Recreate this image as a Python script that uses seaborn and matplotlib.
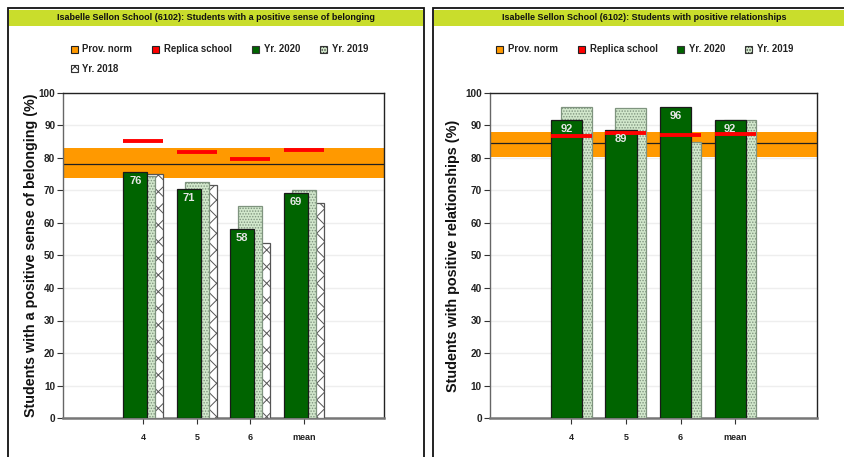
import matplotlib
matplotlib.use('Agg')
import matplotlib.pyplot as plt
import seaborn as sns
import numpy as np
from matplotlib.patches import Rectangle, Patch
from matplotlib import font_manager as fm

# ---------------- data ----------------
categories = ['4', '5', '6', 'mean']

belong_2020 = [75.7, 70.6, 58.2, 69.3]
belong_2019 = [74.5, 72.7, 65.3, 70.2]
belong_2018 = [75.0, 71.7, 53.7, 66.2]
belong_replica = [85.3, 81.7, 79.6, 82.5]
belong_norm = [78.0]
belong_norm_band = [73.8, 83.0]

rel_2020 = [91.7, 88.6, 95.8, 91.7]
rel_2019 = [95.8, 95.5, 85.0, 91.7]
rel_replica = [86.7, 87.6, 87.1, 87.3]
rel_norm = [84.5]
rel_norm_band = [80.4, 87.9]

yticks = [0, 10, 20, 30, 40, 50, 60, 70, 80, 90, 100]

title_left = 'Isabelle Sellon School (6102): Students with a positive sense of belonging'
title_right = 'Isabelle Sellon School (6102): Students with positive relationships'
ylabel_left = 'Students with a positive sense of belonging (%)'
ylabel_right = 'Students with positive relationships (%)'

# ---------------- style ----------------
sns.set_theme(style='white')
FAM = ['Liberation Sans', 'DejaVu Sans']
plt.rcParams['font.family'] = FAM
plt.rcParams['hatch.linewidth'] = 0.7


def bprop(size):
    return fm.FontProperties(family=FAM, weight='bold', size=size)


W, H = 844, 457
fig = plt.figure(figsize=(W / 100, H / 100), dpi=100)
fig.patch.set_facecolor('white')

GREEN = '#006400'
ORANGE = '#ff9900'
TITLEBAR = '#c9dd2c'

STYLES = {
    '2020': dict(color=GREEN, edgecolor='#1a1a1a', hatch=None),
    '2019': dict(color='#d2e8cc', edgecolor='#7f947f', hatch='......'),
    '2018': dict(color='white', edgecolor='#555555', hatch='xx'),
}


def px_to_fig(x0, y0, x1, y1):
    return (x0 / W, 1 - y1 / H, (x1 - x0) / W, (y1 - y0) / H)


def draw_panel(ax, series, offsets, width, replica, norm, band, ylabel, ylabel_size, label_x):
    x = np.arange(len(categories))
    ax.axhspan(band[0], band[1], color=ORANGE, lw=0, zorder=1)
    ax.axhline(norm[0], color='#202020', lw=0.9, zorder=2)
    for (name, vals), off in reversed(list(zip(series, offsets))):
        st = STYLES[name]
        sns.barplot(x=x + off, y=vals, native_scale=True, width=width, ax=ax,
                    color=st['color'], saturation=1, edgecolor=st['edgecolor'],
                    linewidth=0.9, hatch=st['hatch'], errorbar=None, zorder=3)
    ax.hlines(replica, x - 0.375, x + 0.375, color='#ff0000', lw=2.8, zorder=6)
    name, vals = series[0]
    for xi, v in zip(x + offsets[0], vals):
        ax.annotate(f'{round(v)}', (xi, v), xytext=(0, -3), textcoords='offset points',
                    ha='center', va='top', color='#e6e6e6', fontproperties=bprop(8),
                    zorder=7)
    ax.set_xlim(-1.5, 4.5)
    ax.set_ylim(0, 100)
    ax.set_xticks(x)
    ax.set_xticklabels(categories)
    ax.set_yticks(yticks)
    ax.set_yticklabels([str(t) for t in yticks])
    ax.set_xlabel('')
    ax.yaxis.grid(True, color='#eeeeee', lw=1, zorder=0)
    ax.xaxis.grid(False)
    ax.set_axisbelow(True)
    for s in ['top', 'right']:
        ax.spines[s].set_color('#222222')
        ax.spines[s].set_linewidth(1.0)
    ax.spines['left'].set_color('#666666')
    ax.spines['left'].set_linewidth(1.0)
    ax.spines['bottom'].set_color('#777777')
    ax.spines['bottom'].set_linewidth(1.8)
    ax.tick_params(axis='y', direction='out', length=4, width=0.8, color='#333333',
                   pad=1.5, labelcolor='#222222', left=True)
    ax.tick_params(axis='x', direction='out', length=4, width=0.8, color='#333333',
                   pad=7, labelcolor='#222222', bottom=True)
    for lab in ax.get_yticklabels():
        lab.set_fontproperties(bprop(7.2))
    for lab in ax.get_xticklabels():
        lab.set_fontproperties(bprop(6.5))
    ax.set_ylabel(ylabel, fontproperties=bprop(ylabel_size), color='#111111')
    ax.yaxis.set_label_coords(label_x, 0.5)


# ---------------- panel frames & title bars ----------------
for (x0, x1, tcx, title) in [(8, 424, 216, title_left), (433, 857, 644, title_right)]:
    fig.add_artist(Rectangle(px_to_fig(x0, 8, x1, 470)[:2], (x1 - x0) / W, (470 - 8) / H,
                             transform=fig.transFigure, facecolor='none',
                             edgecolor='#111111', lw=1.3, zorder=0))
    fig.add_artist(Rectangle(px_to_fig(x0 + 1, 10, x1 - 1, 26)[:2], (x1 - x0 - 2) / W, 16 / H,
                             transform=fig.transFigure, facecolor=TITLEBAR,
                             edgecolor='none', zorder=1))
    fig.text(tcx / W, 1 - 18 / H, title, ha='center', va='center',
             fontproperties=bprop(6.5), color='#111111')

# ---------------- axes ----------------
axL = fig.add_axes(px_to_fig(63, 93, 384, 418))
axR = fig.add_axes(px_to_fig(489.5, 93, 817, 418))

draw_panel(axL, [('2020', belong_2020), ('2019', belong_2019), ('2018', belong_2018)],
           [-0.15, 0.0, 0.15], 0.45, belong_replica, belong_norm, belong_norm_band,
           ylabel_left, 10.3, -0.078)
draw_panel(axR, [('2020', rel_2020), ('2019', rel_2019)],
           [-0.09, 0.09], 0.57, rel_replica, rel_norm, rel_norm_band,
           ylabel_right, 10.4, -0.09)


# ---------------- legends ----------------
def handle(name):
    if name == 'norm':
        return Patch(facecolor=ORANGE, edgecolor='#222222', lw=0.8)
    if name == 'replica':
        return Patch(facecolor='#ff0000', edgecolor='#222222', lw=0.8)
    st = STYLES[name]
    hatch = 'xxxx' if name == '2018' else st['hatch']
    return Patch(facecolor=st['color'], edgecolor='#333333', hatch=hatch, lw=0.8)


leg_kw = dict(loc='upper left', frameon=False, handlelength=0.75,
              handleheight=0.75, handletextpad=0.5, columnspacing=2.05,
              borderaxespad=0, borderpad=0, labelspacing=1.0, prop=bprop(6.9))
legL = fig.legend([handle('norm'), handle('2018'), handle('replica'), handle('2020'), handle('2019')],
                  ['Prov. norm', 'Yr. 2018', 'Replica school', 'Yr. 2020', 'Yr. 2019'],
                  ncol=4, bbox_to_anchor=(70.5 / W, 1 - 44.5 / H), **leg_kw)
legR = fig.legend([handle('norm'), handle('replica'), handle('2020'), handle('2019')],
                  ['Prov. norm', 'Replica school', 'Yr. 2020', 'Yr. 2019'],
                  ncol=4, bbox_to_anchor=(496 / W, 1 - 44.5 / H), **leg_kw)
for leg in (legL, legR):
    for t in leg.get_texts():
        t.set_color('#222222')

fig.savefig('out.png', dpi=100)
